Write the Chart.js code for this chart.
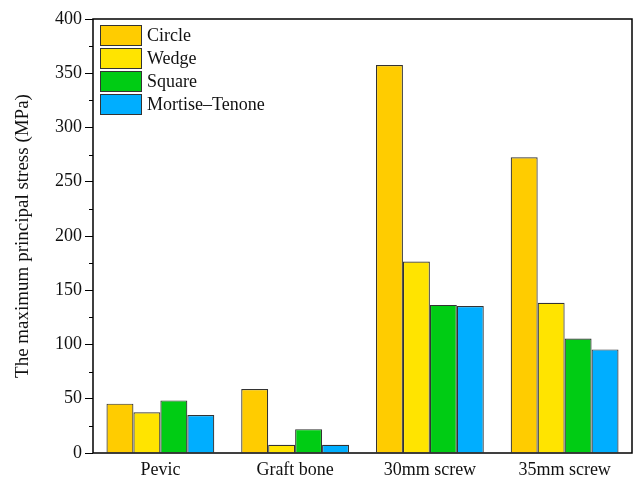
<!DOCTYPE html>
<html>
<head>
<meta charset="utf-8">
<script src="https://cdn.jsdelivr.net/npm/chart.js@4/dist/chart.umd.min.js"></script>
<style>
  html, body { margin: 0; padding: 0; background: #fff; }
  #wrap { width: 635px; height: 480px; position: relative; }
</style>
</head>
<body>
<div id="wrap"><canvas id="c" width="635" height="480"></canvas></div>
<script>
// Categories and series values (MPa)
const categories = ['Pevic', 'Graft bone', '30mm screw', '35mm screw'];
const seriesNames = ['Circle', 'Wedge', 'Square', 'Mortise\u2013Tenone'];
const circle  = [45.5, 59, 357.5, 272.5];
const wedge   = [37.5, 7.5, 176.5, 138.5];
const square  = [48.5, 22, 136.5, 105.5];
const mortise = [35, 7.5, 135.5, 95.5];
const yTicks  = [0, 50, 100, 150, 200, 250, 300, 350, 400];

const colors = ['#FFCC00', '#FFE400', '#00CC14', '#00AEFF'];
const FONT = '"Liberation Serif", "Times New Roman", serif';

// Frame, minor ticks and in-plot legend
const decor = {
  id: 'decor',
  afterDraw(chart) {
    const ctx = chart.ctx;
    const a = chart.chartArea;
    const y = chart.scales.y;
    ctx.save();
    // minor ticks between labelled values
    ctx.strokeStyle = '#000';
    ctx.lineWidth = 1;
    for (let i = 0; i < yTicks.length - 1; i++) {
      const v = (yTicks[i] + yTicks[i + 1]) / 2;
      const py = Math.round(y.getPixelForValue(v)) + 0.5;
      ctx.beginPath();
      ctx.moveTo(a.left - 4, py);
      ctx.lineTo(a.left, py);
      ctx.stroke();
    }
    // box around the plot area
    ctx.lineWidth = 1.5;
    ctx.strokeRect(a.left, a.top, a.right - a.left, a.bottom - a.top);
    // legend
    ctx.font = '18px ' + FONT;
    ctx.textBaseline = 'middle';
    ctx.textAlign = 'left';
    chart.data.datasets.forEach((ds, i) => {
      const bx = a.left + 7, by = a.top + 6 + i * 23, bw = 41, bh = 20;
      ctx.fillStyle = ds.backgroundColor;
      ctx.fillRect(bx, by, bw, bh);
      ctx.strokeStyle = '#333';
      ctx.lineWidth = 1;
      ctx.strokeRect(bx + 0.5, by + 0.5, bw, bh);
      ctx.fillStyle = '#111';
      ctx.fillText(ds.label, bx + bw + 6, by + bh / 2 + 1);
    });
    ctx.restore();
  }
};

const dataSets = [circle, wedge, square, mortise].map((vals, i) => ({
  label: seriesNames[i],
  data: vals,
  backgroundColor: colors[i],
  borderColor: '#333',
  borderWidth: 1.2,
  borderSkipped: 'bottom',
  categoryPercentage: 0.8,
  barPercentage: 1.0
}));

new Chart(document.getElementById('c'), {
  type: 'bar',
  data: { labels: categories, datasets: dataSets },
  options: {
    responsive: false,
    animation: false,
    layout: { padding: { left: 0, right: 3, top: 19, bottom: 0 } },
    plugins: { legend: { display: false }, tooltip: { enabled: false } },
    scales: {
      x: {
        offset: true,
        grid: { display: false, drawTicks: false },
        border: { display: false },
        ticks: { color: '#111', font: { family: FONT, size: 18 }, padding: 6 },
        afterFit(s) { s.height = 27; }
      },
      y: {
        min: 0, max: 400,
        afterBuildTicks(s) { s.ticks = yTicks.map(v => ({ value: v })); },
        grid: { drawOnChartArea: false, drawTicks: true, tickLength: 8, color: '#000', tickWidth: 1 },
        border: { display: false },
        ticks: { color: '#111', font: { family: FONT, size: 18 }, padding: 3 },
        title: {
          display: true,
          text: 'The maximum principal stress (MPa)',
          color: '#111',
          font: { family: FONT, size: 19 },
          padding: { top: 12, bottom: 4 }
        },
        afterFit(s) { s.width = 93; }
      }
    }
  },
  plugins: [decor]
});
</script>
</body>
</html>
